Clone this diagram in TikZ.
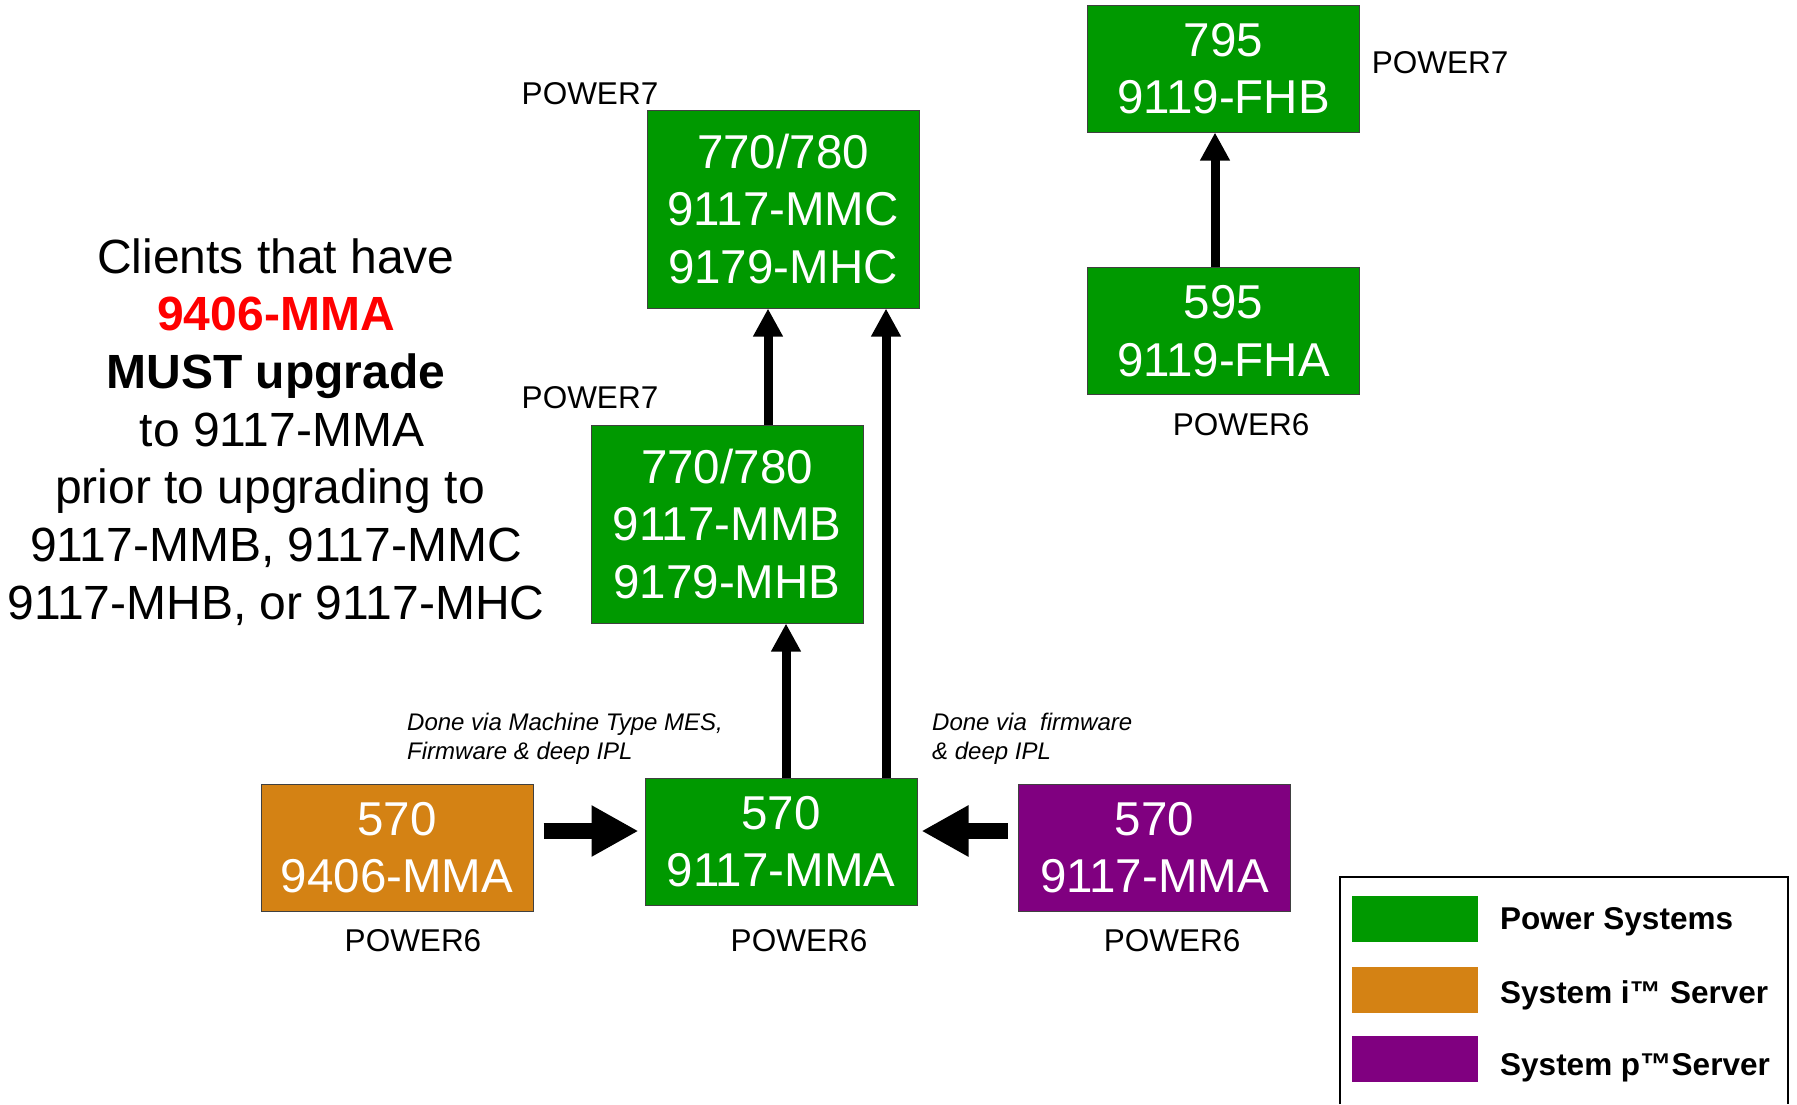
\documentclass[tikz,border=0pt]{standalone}
\usepackage{fontspec}
\setmainfont{Liberation Sans}
\usetikzlibrary{arrows.meta}
\definecolor{pgreen}{RGB}{0,153,0}
\definecolor{porange}{RGB}{212,130,20}
\definecolor{ppurple}{RGB}{128,0,128}
\definecolor{pred}{RGB}{255,0,0}
\begin{document}
\begin{tikzpicture}[x=1pt,y=-1pt,
  box/.style={draw=black!75, line width=1pt, inner sep=0pt, minimum width=272pt, text=white, align=center, font=\fontsize{47.5}{57.5}\selectfont},
  tallbox/.style={box, minimum height=198pt},
  shortbox/.style={box, minimum height=127pt},
  lbl/.style={font=\fontsize{31.5}{36}\selectfont, inner sep=0pt},
  note/.style={font=\fontsize{24}{29}\selectfont\itshape, align=left, inner sep=0pt, anchor=base west},
  bigtxt/.style={font=\fontsize{48}{57.7}\selectfont, inner sep=0pt, anchor=base},
  uparr/.style={line width=9pt, -{Triangle[width=28pt,length=28pt]}},
  blockarr/.style={line width=16pt, -{Triangle[width=48pt,length=47pt]}},
  legtext/.style={font=\fontsize{31.5}{36}\selectfont\bfseries, anchor=base west, inner sep=0pt},
  swatch/.style={minimum width=126pt, minimum height=46pt, inner sep=0pt}]
\useasboundingbox[fill=white] (0,0) rectangle (1797,1104);

% boxes
\node[tallbox, fill=pgreen] (mmc) at (783,209) {770/780\\9117-MMC\\9179-MHC};
\node[tallbox, fill=pgreen] (mmb) at (727,524) {770/780\\9117-MMB\\9179-MHB};
\node[shortbox, fill=pgreen] (mma) at (781,841.5) {570\\9117-MMA};
\node[shortbox, fill=porange] (ora) at (397,847.5) {570\\9406-MMA};
\node[shortbox, fill=ppurple] (pur) at (1154.5,847.5) {570\\9117-MMA};
\node[shortbox, fill=pgreen] (fhb) at (1223.5,68.5) {795\\9119-FHB};
\node[shortbox, fill=pgreen] (fha) at (1223.5,331) {595\\9119-FHA};

% labels
\node[lbl] (p7a) at (590,94) {POWER7};
\node[lbl] (p7b) at (590,398) {POWER7};
\node[lbl] (p7c) at (1440,63) {POWER7};
\node[lbl] (p6a) at (1241,425) {POWER6};
\node[lbl] (p6b) at (413,941) {POWER6};
\node[lbl] (p6c) at (799,941) {POWER6};
\node[lbl] (p6d) at (1172,941) {POWER6};

\node[note] (n1) at (407,759) {Done via Machine Type MES,\\Firmware \& deep IPL};
\node[note] (n2) at (932,759) {Done via\ \ firmware\\\& deep IPL};

% left text
\node[bigtxt] (t1) at (276,273) {Clients that have};
\node[bigtxt, text=pred, font=\fontsize{48}{57.7}\selectfont\bfseries] (t2) at (276,330.7) {9406-MMA};
\node[bigtxt, font=\fontsize{48}{57.7}\selectfont\bfseries] (t3) at (276,388.4) {MUST upgrade};
\node[bigtxt] (t4) at (282,446) {to 9117-MMA};
\node[bigtxt] (t5) at (270,503.8) {prior to upgrading to};
\node[bigtxt] (t6) at (276,561.5) {9117-MMB, 9117-MMC};
\node[bigtxt] (t7) at (276,619.2) {9117-MHB, or 9117-MHC};

% connectors
\draw[uparr] ([xshift=41pt]mmb.north) -- ([xshift=-15pt]mmc.south);
\draw[uparr] ([xshift=5pt]mma.north) -- ([xshift=59pt]mmb.south);
\draw[uparr] ([xshift=105pt]mma.north) -- ([xshift=103pt]mmc.south);
\draw[uparr] ([xshift=-8.5pt]fha.north) -- ([xshift=-8.5pt]fhb.south);
\draw[blockarr] ([xshift=10pt,yshift=16.5pt]ora.east) -- ([xshift=-6pt,yshift=10.5pt]mma.west);
\draw[blockarr] ([xshift=-10pt,yshift=16.5pt]pur.west) -- ([xshift=4pt,yshift=10.5pt]mma.east);

% legend
\coordinate (lgbl) at (1340,1104);
\coordinate (lgtr) at (1788,877);
\coordinate (lgbr) at (1788,1104);
\draw[line width=2pt] (lgbl) |- (lgtr) -- (lgbr);
\node[swatch, fill=pgreen] (s1) at (1415,919) {};
\node[swatch, fill=porange] (s2) at (1415,990) {};
\node[swatch, fill=ppurple] (s3) at (1415,1059) {};
\node[legtext] (l1) at (1500,929) {Power Systems};
\node[legtext] (l2) at (1500,1003) {System i™ Server};
\node[legtext] (l3) at (1500,1075) {System p™Server};
\end{tikzpicture}
\end{document}
